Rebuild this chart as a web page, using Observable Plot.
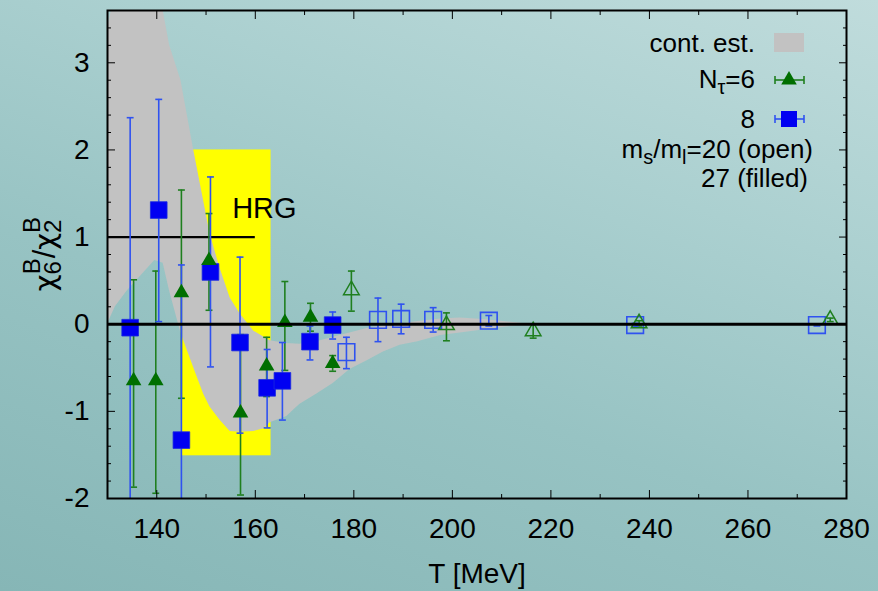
<!DOCTYPE html>
<html>
<head>
<meta charset="utf-8">
<script src="https://cdn.jsdelivr.net/npm/d3@7"></script>
<script src="https://cdn.jsdelivr.net/npm/@observablehq/plot@0.6"></script>
<style>
  html, body { margin: 0; padding: 0; }
  body {
    width: 878px; height: 591px; overflow: hidden;
    background: linear-gradient(20deg, #86b6b6 0%, #97c3c3 40%, #abd0d0 70%, #c0dcdc 100%);
  }
  #chart svg { display: block; background: transparent; }
</style>
</head>
<body>
<div id="chart"></div>
<script>
// ---------- data ----------
// Nt=6, ms/ml=27 (filled green triangles)
const n6_27_T   = [135.3, 139.8, 145.0, 150.6, 157.0, 162.3, 166.0, 171.2, 175.7];
const n6_27_val = [-0.65, -0.65, 0.36, 0.73, -1.02, -0.48, 0.02, 0.08, -0.45];
const n6_27_lo  = [-1.87, -1.94, -0.85, 0.16, -1.96, -0.83, -0.53, -0.08, -0.54];
const n6_27_hi  = [0.51, 0.61, 1.54, 1.27, -0.12, -0.15, 0.49, 0.24, -0.36];
// Nt=8, ms/ml=27 (filled blue squares)
const n8_27_T   = [134.6, 140.4, 145.0, 150.9, 156.9, 162.4, 165.5, 171.1, 175.7];
const n8_27_val = [-0.04, 1.31, -1.33, 0.60, -0.21, -0.73, -0.65, -0.20, -0.01];
const n8_27_lo  = [-2.6, 0.03, -2.6, -0.49, -1.25, -1.19, -1.10, -0.41, -0.17];
const n8_27_hi  = [2.37, 2.58, 0.68, 1.69, 0.77, -0.29, -0.21, -0.02, 0.14];
// Nt=6, ms/ml=20 (open green triangles)
const n6_20_T   = [179.5, 198.8, 216.4, 237.9, 276.7];
const n6_20_val = [0.39, -0.01, -0.08, 0.01, 0.05];
const n6_20_lo  = [0.15, -0.19, -0.16, -0.02, 0.03];
const n6_20_hi  = [0.61, 0.13, 0.00, 0.04, 0.07];
// Nt=8, ms/ml=20 (open blue squares)
const n8_20_T   = [178.5, 184.9, 189.6, 196.1, 207.4, 237.1, 274.0];
const n8_20_val = [-0.32, 0.05, 0.06, 0.05, 0.04, -0.01, -0.01];
const n8_20_lo  = [-0.51, -0.20, -0.11, -0.09, -0.02, -0.03, -0.02];
const n8_20_hi  = [-0.15, 0.30, 0.23, 0.19, 0.10, 0.01, 0.00];
// continuum estimate band
const bandT  = [130, 131.6, 134, 139.6, 141.3, 142.6, 144.9, 147.5, 149.5, 150.8, 152.8, 154.9, 156.9, 159.7, 161.8, 163, 166.4, 169, 172.5, 175.8, 179.2, 182.7, 186, 189.4, 193, 197.6, 201.6, 207, 214];
const bandLo = [0.0, 0.2, 0.38, 0.73, 0.7, 0.38, -0.1, -0.5, -0.8, -0.95, -1.1, -1.23, -1.24, -1.23, -1.2, -1.13, -1.06, -0.92, -0.8, -0.68, -0.52, -0.42, -0.32, -0.24, -0.2, -0.13, -0.1, -0.06, -0.01];
const bandHi = [3.4, 3.8, 3.9, 3.9, 3.6, 3.2, 2.8, 2.0, 1.42, 1.04, 0.65, 0.3, 0.12, -0.08, -0.15, -0.19, -0.22, -0.23, -0.2, -0.15, -0.1, -0.05, -0.02, 0.0, 0.03, 0.06, 0.07, 0.05, 0.01];
// HRG
const hrgBox  = [{T1: 145.0, T2: 163.2, y1: -1.51, y2: 2.0}];
const hrgLine = [{T1: 130, T2: 160, y: 1}];
const hrgLabel = [{T: 155.3, y: 1.33, text: "HRG"}];
// axes
const xMajor = [140, 160, 180, 200, 220, 240, 260, 280];
const xMinor = [130, 150, 170, 190, 210, 230, 250, 270];
const yMajor = [-2, -1, 0, 1, 2, 3];
const yMinor = [-1.8, -1.6, -1.4, -1.2, -0.8, -0.6, -0.4, -0.2, 0.2, 0.4, 0.6, 0.8, 1.2, 1.4, 1.6, 1.8, 2.2, 2.4, 2.6, 2.8, 3.2, 3.4];

const rows = (T, v, lo, hi) => T.map((t, i) => ({T: t, v: v[i], lo: lo[i], hi: hi[i]}));
const g27 = rows(n6_27_T, n6_27_val, n6_27_lo, n6_27_hi);
const b27 = rows(n8_27_T, n8_27_val, n8_27_lo, n8_27_hi);
const g20 = rows(n6_20_T, n6_20_val, n6_20_lo, n6_20_hi);
const b20 = rows(n8_20_T, n8_20_val, n8_20_lo, n8_20_hi);
const band = bandT.map((t, i) => ({T: t, lo: bandLo[i], hi: bandHi[i]}));

const BLUE = "#0000f2", BLUE_E = "#2f52f0", GREEN = "#006f00", GREEN_E = "#1f7f1f";
const CAP = 0.7;
const FONT = "'Liberation Sans', Arial, Helvetica, sans-serif";

function errMarks(data, color) {
  return [
    Plot.ruleX(data, {x: "T", y1: "lo", y2: "hi", stroke: color, strokeWidth: 1.6, clip: true}),
    Plot.link(data, {x1: d => d.T - CAP, x2: d => d.T + CAP, y1: "hi", y2: "hi", stroke: color, strokeWidth: 1.6, clip: true}),
    Plot.link(data, {x1: d => d.T - CAP, x2: d => d.T + CAP, y1: "lo", y2: "lo", stroke: color, strokeWidth: 1.6, clip: true})
  ];
}
const tickFmt = () => "";

const chart = Plot.plot({
  width: 878, height: 591,
  marginLeft: 107, marginRight: 32, marginTop: 10, marginBottom: 93,
  x: {domain: [130, 280]},
  y: {domain: [-2, 3.6]},
  style: {background: "transparent", fontFamily: FONT, fontSize: "28px", color: "#000"},
  marks: [
    Plot.rect(hrgBox, {x1: "T1", x2: "T2", y1: "y1", y2: "y2", fill: "#ffff00"}),
    Plot.areaY(band, {x: "T", y1: "lo", y2: "hi", fill: "#c2c2c2", clip: true}),
    Plot.ruleY(hrgLine, {x1: "T1", x2: "T2", y: "y", stroke: "#000", strokeWidth: 2.2}),
    Plot.text(hrgLabel, {x: "T", y: "y", text: "text", textAnchor: "start", fontSize: 29, fill: "#000"}),
    ...errMarks(g27, GREEN_E),
    ...errMarks(b27, BLUE_E),
    ...errMarks(g20, GREEN_E),
    ...errMarks(b20, BLUE_E),
    Plot.dot(b27, {x: "T", y: "v", symbol: "square", r: 9.4, fill: BLUE, stroke: "#1a2ae0", strokeWidth: 0.8}),
    Plot.dot(g27, {x: "T", y: "v", symbol: "triangle", r: 5.8, fill: GREEN}),
    Plot.dot(b20, {x: "T", y: "v", symbol: "square", r: 9.4, fill: "none", stroke: BLUE_E, strokeWidth: 1.6}),
    Plot.dot(g20, {x: "T", y: "v", symbol: "triangle", r: 5.8, fill: "none", stroke: GREEN_E, strokeWidth: 1.5}),
    Plot.ruleY([0], {stroke: "#000", strokeWidth: 3}),
    // axes with inward ticks (gnuplot style)
    Plot.axisX({ticks: xMajor, tickSize: -8, tickPadding: 28, tickFormat: d => String(d), label: "T [MeV]", labelAnchor: "center", labelArrow: "none", labelOffset: 84, fontSize: 28}),
    Plot.axisX({ticks: xMinor, tickSize: -4, tickFormat: tickFmt, label: null}),
    Plot.axisX({anchor: "top", ticks: xMajor, tickSize: -8, tickFormat: tickFmt, label: null}),
    Plot.axisX({anchor: "top", ticks: xMinor, tickSize: -4, tickFormat: tickFmt, label: null}),
    Plot.axisY({ticks: yMajor, tickSize: -8, tickPadding: 26, tickFormat: d => String(d), label: null, fontSize: 28}),
    Plot.axisY({ticks: yMinor, tickSize: -4, tickFormat: tickFmt, label: null}),
    Plot.axisY({anchor: "right", ticks: yMajor, tickSize: -8, tickFormat: tickFmt, label: null}),
    Plot.axisY({anchor: "right", ticks: yMinor, tickSize: -4, tickFormat: tickFmt, label: null}),
    Plot.frame({stroke: "#000", strokeWidth: 2})
  ]
});
document.getElementById("chart").appendChild(chart);

// ---------- y-axis label and legend ----------
const svg = d3.select(chart);
const GREEK = "'DejaVu Sans', sans-serif";
const yl = svg.append("text")
  .attr("transform", "translate(55,254) rotate(-90)")
  .attr("text-anchor", "middle")
  .attr("font-family", FONT).attr("font-size", 31).attr("fill", "#000");
yl.append("tspan").attr("font-family", GREEK).attr("font-size", 29).text("χ");
yl.append("tspan").attr("font-size", 24).attr("dy", 6).text("6");
yl.append("tspan").attr("font-size", 24).attr("dx", -13.3).attr("dy", -21).text("B");
yl.append("tspan").attr("dy", 15).text("/");
yl.append("tspan").attr("font-family", GREEK).attr("font-size", 29).text("χ");
yl.append("tspan").attr("font-size", 24).attr("dy", 6).text("2");
yl.append("tspan").attr("font-size", 24).attr("dx", -13.3).attr("dy", -21).text("B");

const lg = svg.append("g").attr("font-family", FONT).attr("font-size", 26).attr("fill", "#000");
lg.append("text").attr("x", 755).attr("y", 52).attr("text-anchor", "end").text("cont. est.");
lg.append("rect").attr("x", 774).attr("y", 33).attr("width", 30).attr("height", 19).attr("fill", "#c2c2c2");

const t6 = lg.append("text").attr("x", 755).attr("y", 88).attr("text-anchor", "end");
t6.append("tspan").text("N");
t6.append("tspan").attr("font-size", 20).attr("dy", 6).text("τ");
t6.append("tspan").attr("dy", -6).text("=6");
function legErr(y, color) {
  lg.append("line").attr("x1", 775).attr("x2", 804).attr("y1", y).attr("y2", y).attr("stroke", color).attr("stroke-width", 1.6);
  lg.append("line").attr("x1", 775).attr("x2", 775).attr("y1", y - 4).attr("y2", y + 4).attr("stroke", color).attr("stroke-width", 1.6);
  lg.append("line").attr("x1", 804).attr("x2", 804).attr("y1", y - 4).attr("y2", y + 4).attr("stroke", color).attr("stroke-width", 1.6);
}
legErr(80, GREEN_E);
lg.append("path").attr("transform", "translate(789,80)").attr("d", d3.symbol(d3.symbolTriangle, 5.8 * 5.8 * Math.PI)()).attr("fill", GREEN);

lg.append("text").attr("x", 755).attr("y", 128).attr("text-anchor", "end").text("8");
legErr(119, BLUE_E);
lg.append("rect").attr("x", 781).attr("y", 111).attr("width", 16).attr("height", 16).attr("fill", BLUE);

const tm = lg.append("text").attr("x", 813).attr("y", 158).attr("text-anchor", "end");
tm.append("tspan").text("m");
tm.append("tspan").attr("font-size", 20).attr("dy", 6).text("s");
tm.append("tspan").attr("dy", -6).text("/m");
tm.append("tspan").attr("font-size", 20).attr("dy", 6).text("l");
tm.append("tspan").attr("dy", -6).text("=20 (open)");
lg.append("text").attr("x", 808).attr("y", 187).attr("text-anchor", "end").text("27 (filled)");
</script>
</body>
</html>
